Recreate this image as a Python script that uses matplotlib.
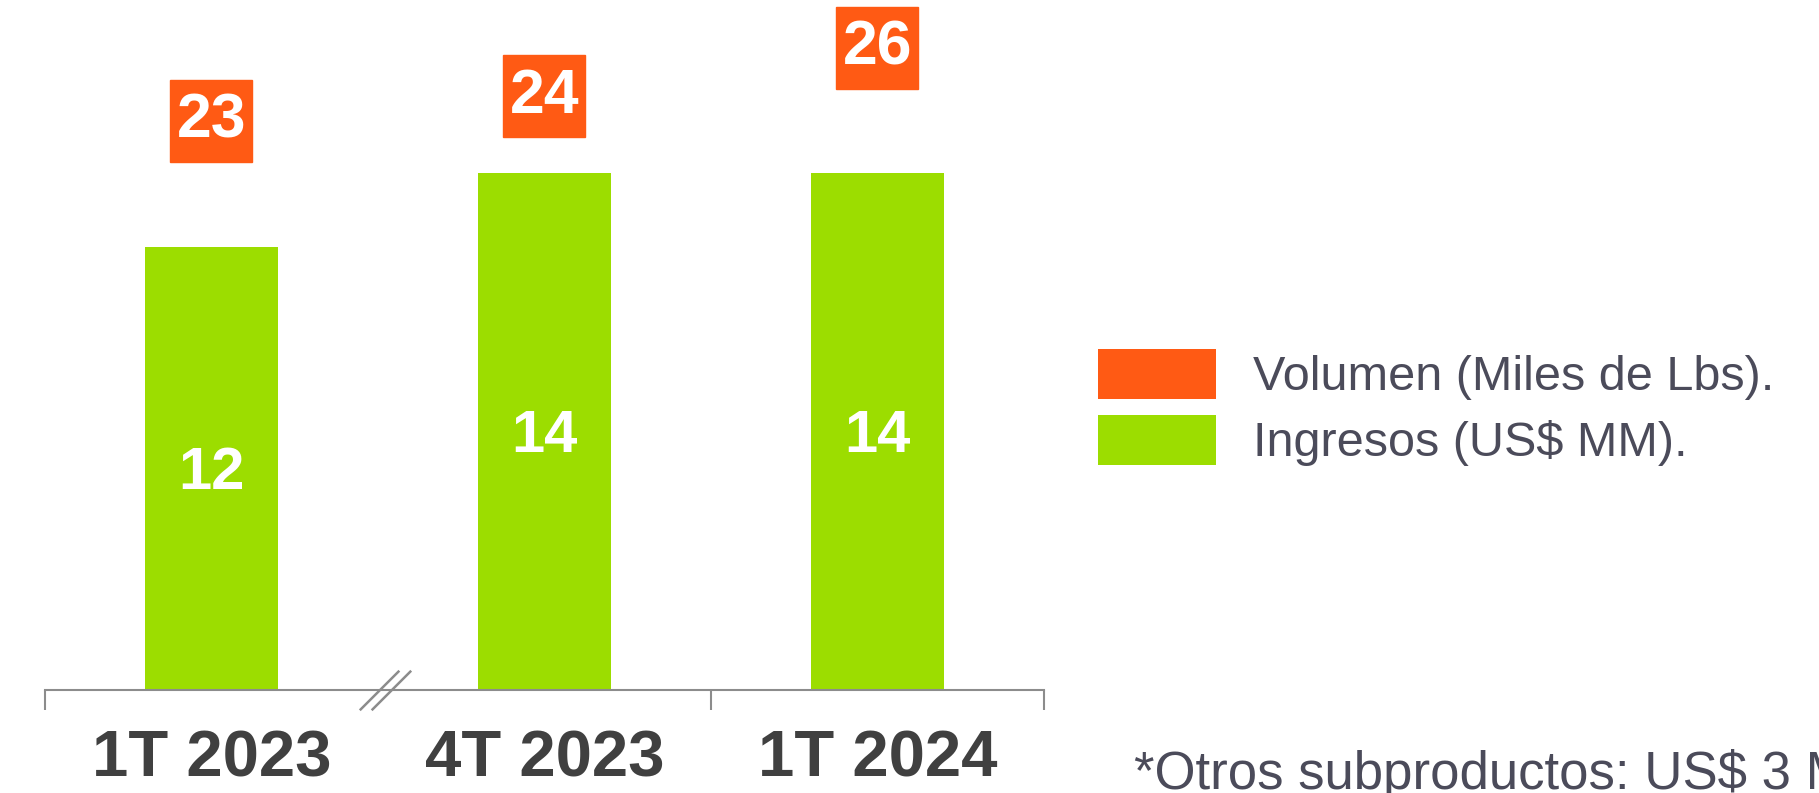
import matplotlib
matplotlib.use("Agg")
import matplotlib.pyplot as plt
import matplotlib.transforms as mtransforms
from matplotlib.patches import Patch
from matplotlib.path import Path
import numpy as np

# ---- data ----
categories = ["1T 2023", "4T 2023", "1T 2024"]
ingresos = [12, 14, 14]          # US$ MM (bars)
volumen = [23, 24, 26]           # Miles de Lbs (boxes)
legend_labels = ["Volumen (Miles de Lbs).", "Ingresos (US$ MM)."]
footnote = "*Otros subproductos: US$ 3 MM."

ORANGE = "#FF5A14"
GREEN = "#9CDD00"
AXIS_GRAY = "#8C8C8C"
TICK_TXT = "#404040"
TXT = "#4B4B5A"

plt.rcParams['font.family'] = ['Liberation Sans', 'DejaVu Sans']

W, H = 1819, 793
fig = plt.figure(figsize=(W / 100, H / 100), dpi=100)

ax_left, ax_right = 45 / W, 1044 / W
ax_bottom = 103 / H
ax = fig.add_axes([ax_left, ax_bottom, ax_right - ax_left, 1 - ax_bottom])
x = np.arange(len(categories))

bars = ax.bar(x, ingresos, width=0.4, color=GREEN, zorder=2)
for xi, v in zip(x, ingresos):
    ax.annotate(str(v), (xi, v / 2), xytext=(0, -4), textcoords='offset points',
                ha='center', va='center', color='white', fontsize=43,
                fontweight='bold', zorder=3)

ax.set_xlim(-0.5, 2.5)
ax.set_ylim(0, 18.68)
for s in ['top', 'left', 'right']:
    ax.spines[s].set_visible(False)
ax.spines['bottom'].set_color(AXIS_GRAY)
ax.spines['bottom'].set_linewidth(1.5)
ax.set_yticks([])
ax.set_xticks(x)
ax.set_xticklabels(categories, fontsize=47, fontweight='bold', color=TICK_TXT)
ax.tick_params(axis='x', which='major', length=0, pad=28.5)
ax.set_xticks([-0.5, 1.5, 2.5], minor=True)
ax.tick_params(axis='x', which='minor', length=14.4, width=1.5, color=AXIS_GRAY)

# axis break symbol
brk = Path([(-1.3, -1.0), (0.7, 1.0), (-0.7, -1.0), (1.3, 1.0)],
           [Path.MOVETO, Path.LINETO, Path.MOVETO, Path.LINETO])
trans = mtransforms.blended_transform_factory(ax.transData, ax.transAxes)
ax.plot([0.52], [0], marker=brk, markersize=37, markeredgecolor=AXIS_GRAY,
        markeredgewidth=1.8, markerfacecolor='none', linestyle='none',
        transform=trans, clip_on=False, zorder=5)

# volume boxes on secondary axis
ax2 = ax.twinx()
ax2.set_ylim(-0.43, 27.97)
ax2.axis('off')
ax2.plot(x, volumen, linestyle='none', marker='s',
         markersize=59, color=ORANGE, clip_on=False)
for xi, v in zip(x, volumen):
    ax2.text(xi, v, str(v), ha='center', va='center', color='white',
             fontsize=45, fontweight='bold')

# legend
handles = [Patch(facecolor=ORANGE, edgecolor='none'),
           Patch(facecolor=GREEN, edgecolor='none')]
leg = fig.legend(handles, legend_labels, loc='center left',
                 bbox_to_anchor=(1098 / W, 385.5 / H), frameon=False,
                 fontsize=35, handlelength=2.43, handleheight=1.206,
                 handletextpad=0.76, labelspacing=0.31, borderpad=0,
                 borderaxespad=0)
for t in leg.get_texts():
    t.set_color(TXT)

fig.text(1134 / W, 4 / H, footnote, fontsize=38, color=TXT,
         ha='left', va='baseline')

fig.savefig("out.png", dpi=100)
